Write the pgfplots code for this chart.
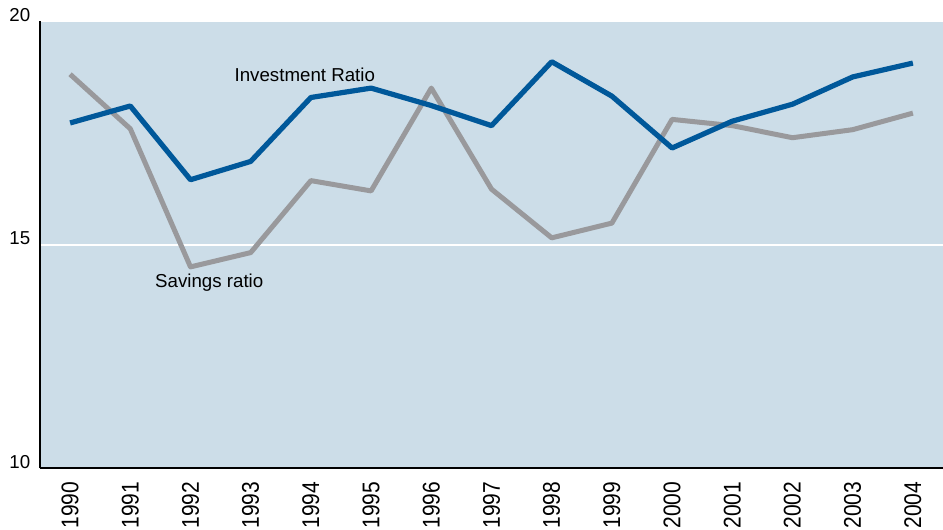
\documentclass[border=0pt]{standalone}
\usepackage{fontspec}
\setmainfont{Liberation Sans}
\usepackage{pgfplots}
\pgfplotsset{compat=1.18}
\definecolor{bgblue}{RGB}{204,221,232}
\definecolor{invblue}{RGB}{0,88,154}
\definecolor{savgray}{RGB}{153,153,156}
\newcommand{\chartfont}{\fontsize{18.7}{21}\selectfont}
\newcommand{\yearfont}{\fontsize{21}{24}\selectfont}
\begin{document}
\chartfont
\begin{tikzpicture}
\useasboundingbox (0,0) rectangle (943pt,530pt);
\begin{axis}[
  at={(40pt,61.5pt)}, anchor=south west,
  scale only axis, width=903pt, height=447pt,
  xmin=1989.5, xmax=2004.5, ymin=10, ymax=20,
  axis x line*=bottom, axis y line*=left,
  axis line style={black, line width=2pt, -},
  axis background/.style={fill=bgblue},
  xtick={1990,...,2004},
  xticklabels={1990,1991,1992,1993,1994,1995,1996,1997,1998,1999,2000,2001,2002,2003,2004},
  ytick={10,15,20},
  major tick length=0pt,
  ymajorgrids, grid style={white, line width=1.8pt},
  /pgf/number format/assume math mode=true,
  ticklabel style={inner sep=0pt},
  xticklabel style={font=\yearfont, rotate=90, yscale=1.15, anchor=east},
  xticklabel shift=13pt,
  yticklabel style={font=\chartfont, anchor=base east},
  yticklabel shift=9.5pt,
  clip=false,
]
\addplot[savgray, line width=5pt, line join=round] coordinates {
(1990,18.82) (1991,17.60) (1992,14.51) (1993,14.83) (1994,16.44)
(1995,16.21) (1996,18.51) (1997,16.25) (1998,15.16) (1999,15.49)
(2000,17.81) (2001,17.67) (2002,17.40) (2003,17.58) (2004,17.95)};
\addplot[invblue, line width=5.2pt, line join=round] coordinates {
(1990,17.73) (1991,18.11) (1992,16.46) (1993,16.87) (1994,18.30)
(1995,18.51) (1996,18.12) (1997,17.67) (1998,19.10) (1999,18.33)
(2000,17.17) (2001,17.77) (2002,18.15) (2003,18.76) (2004,19.07)};
\node[anchor=base west, inner sep=0pt, font=\chartfont] at (axis cs:1992.73,18.66) {Investment Ratio};
\node[anchor=base west, inner sep=0pt, font=\chartfont] at (axis cs:1991.41,14.06) {Savings ratio};
\end{axis}
\end{tikzpicture}
\end{document}
